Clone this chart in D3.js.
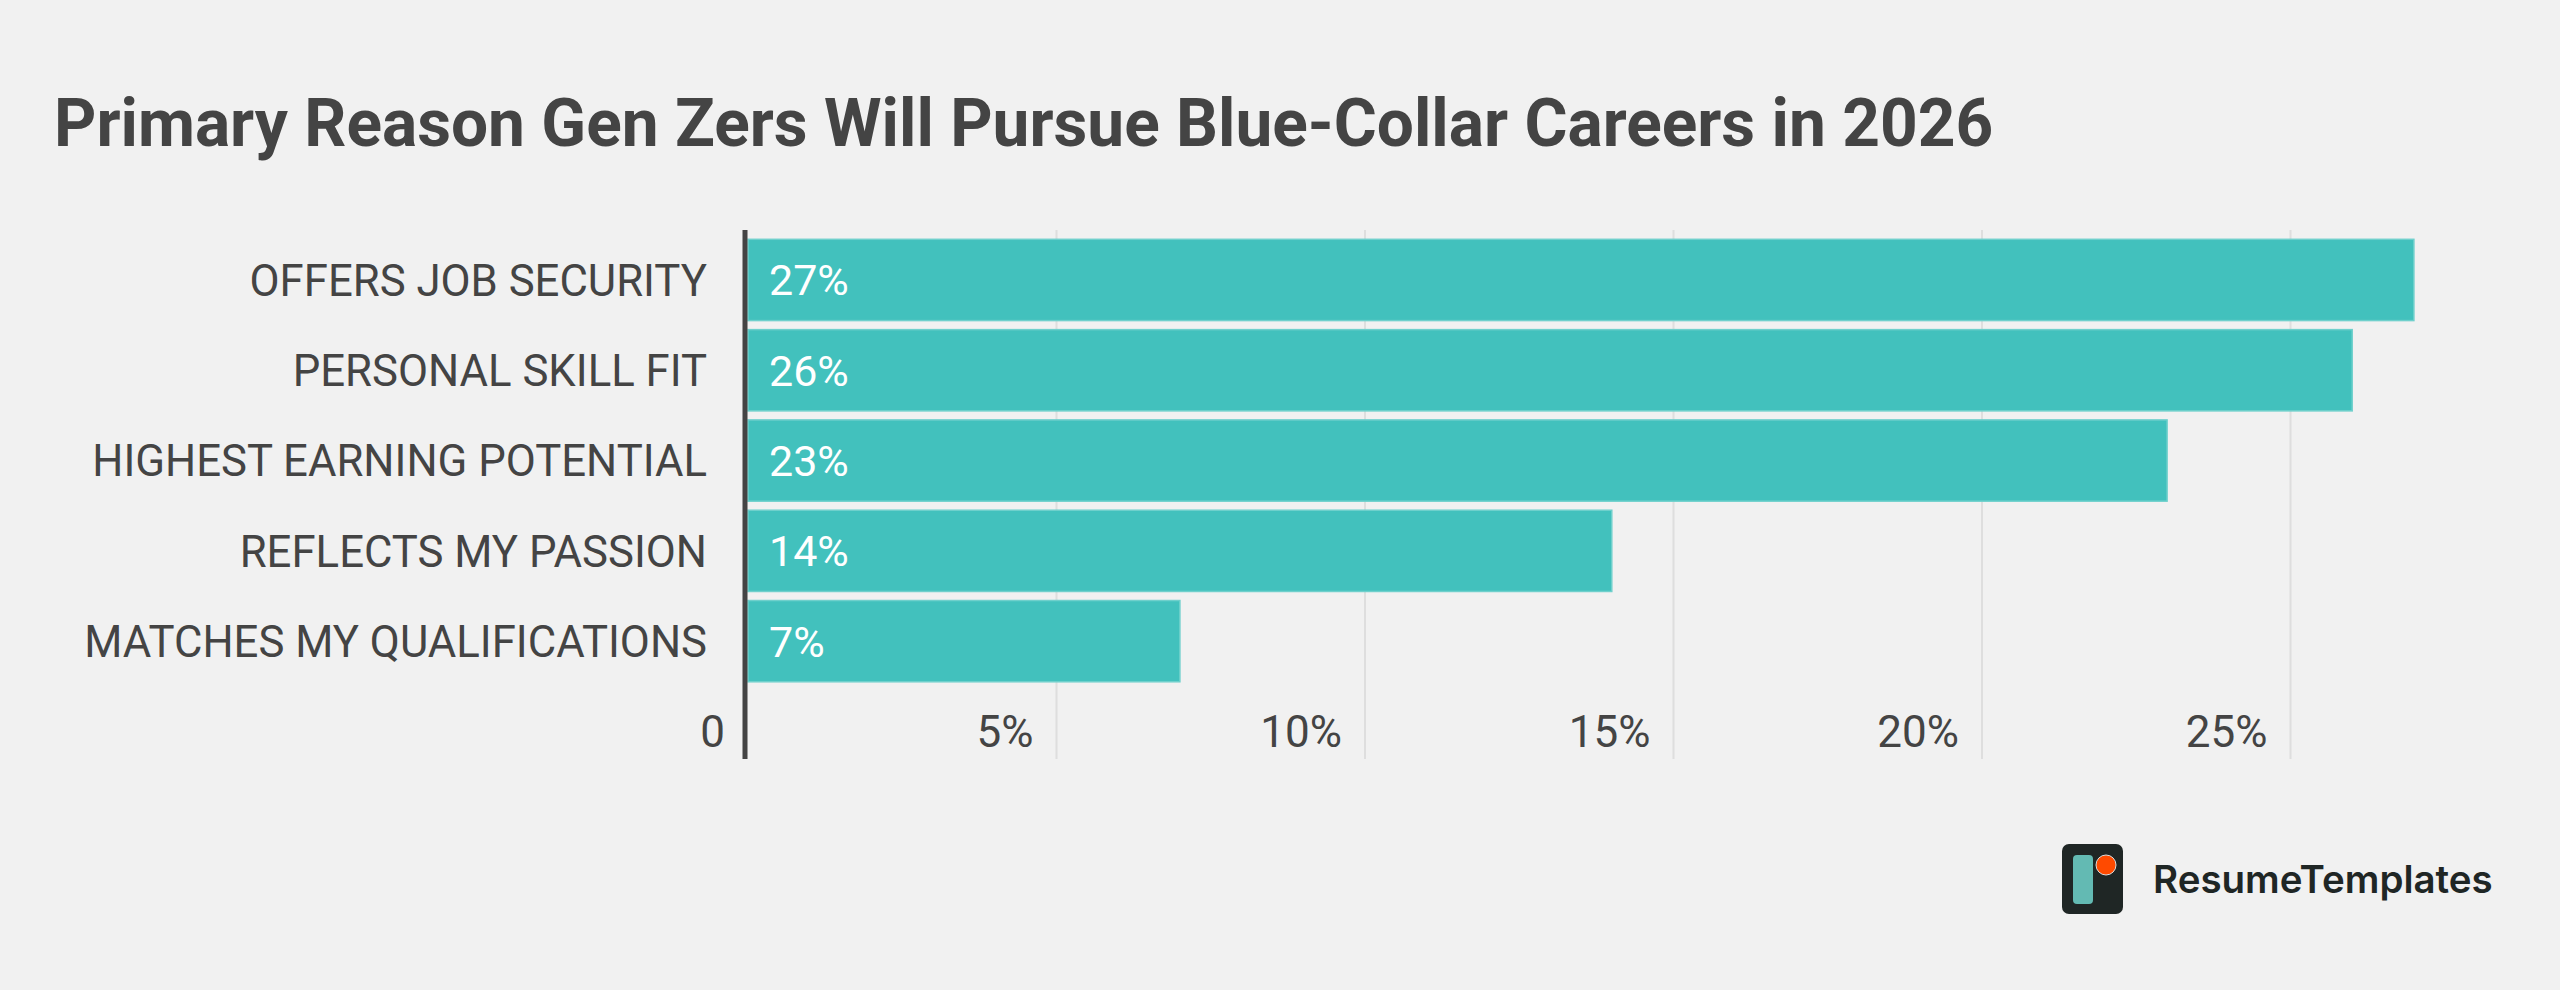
<!DOCTYPE html>
<html>
<head>
<meta charset="utf-8">
<script src="https://cdn.jsdelivr.net/npm/d3@7"></script>
<style>
  body { margin: 0; background: #f1f1f1; }
  svg { display: block; font-family: Roboto, "Noto Sans", sans-serif; }
</style>
</head>
<body>
<svg id="chart" width="2560" height="990"></svg>
<script>
// data
const categories = [
  'OFFERS JOB SECURITY',
  'PERSONAL SKILL FIT',
  'HIGHEST EARNING POTENTIAL',
  'REFLECTS MY PASSION',
  'MATCHES MY QUALIFICATIONS',
];
const shares = [27, 26, 23, 14, 7];
const xTicks = [0, 5, 10, 15, 20, 25];
const xTickLabels = ['0', '5%', '10%', '15%', '20%', '25%'];

const svg = d3.select('#chart');

svg.append('rect')
  .attr('width', 2560).attr('height', 990)
  .attr('fill', '#f1f1f1');

// title
svg.append('text')
  .attr('x', 54).attr('y', 146)
  .attr('font-size', 65.8)
  .attr('font-weight', 700)
  .attr('fill', '#444')
  .text('Primary Reason Gen Zers Will Pursue Blue-Collar Careers in 2026');

const x = d3.scaleLinear().domain([0, 25]).range([748, 2290.5]);
const y = d3.scaleBand()
  .domain(categories)
  .range([234.8, 686.3])
  .paddingInner(0.1)
  .paddingOuter(0.05);

const plotTop = 230, plotBottom = 759;

// grid
svg.selectAll('.grid')
  .data(xTicks.filter(d => d > 0))
  .enter().append('line')
  .attr('x1', d => x(d)).attr('x2', d => x(d))
  .attr('y1', plotTop).attr('y2', plotBottom)
  .attr('stroke', '#dedede')
  .attr('stroke-width', 2);

// bars
svg.selectAll('.bar')
  .data(shares)
  .enter().append('rect')
  .attr('x', x(0))
  .attr('y', (d, i) => y(categories[i]))
  .attr('width', d => x(d) - x(0))
  .attr('height', y.bandwidth())
  .attr('fill', '#42c1bd')
  .attr('stroke', '#6fd0cc')
  .attr('stroke-width', 1.5);

// value labels
svg.selectAll('.val')
  .data(shares)
  .enter().append('text')
  .attr('x', x(0) + 21)
  .attr('y', (d, i) => y(categories[i]) + y.bandwidth() / 2)
  .attr('dy', '0.36em')
  .attr('font-size', 43)
  .attr('fill', '#fff')
  .text(d => d + '%');

// category labels
svg.selectAll('.cat')
  .data(categories)
  .enter().append('text')
  .attr('x', 707)
  .attr('y', d => y(d) + y.bandwidth() / 2)
  .attr('dy', '0.36em')
  .attr('text-anchor', 'end')
  .attr('font-size', 43.7)
  .attr('fill', '#444')
  .text(d => d);

// tick labels
svg.selectAll('.tick')
  .data(xTicks)
  .enter().append('text')
  .attr('x', d => x(d) - 23)
  .attr('y', 747)
  .attr('text-anchor', 'end')
  .attr('font-size', 44)
  .attr('fill', '#444')
  .text((d, i) => xTickLabels[i]);

// axis line
svg.append('line')
  .attr('x1', 745).attr('x2', 745)
  .attr('y1', plotTop).attr('y2', plotBottom)
  .attr('stroke', '#444')
  .attr('stroke-width', 5);

// logo
const logo = svg.append('g');
logo.append('rect')
  .attr('x', 2062).attr('y', 844)
  .attr('width', 61).attr('height', 70).attr('rx', 7)
  .attr('fill', '#1f2625');
logo.append('rect')
  .attr('x', 2073).attr('y', 855)
  .attr('width', 20).attr('height', 49).attr('rx', 4)
  .attr('fill', '#63bab3');
logo.append('circle')
  .attr('cx', 2106).attr('cy', 865).attr('r', 10)
  .attr('fill', '#ff4a00')
  .attr('stroke', '#ddd').attr('stroke-width', 1);
logo.append('text')
  .attr('x', 2153).attr('y', 893)
  .attr('font-family', 'Inter, Roboto, sans-serif')
  .attr('font-size', 38.5)
  .attr('font-weight', 600)
  .attr('fill', '#1f2625')
  .text('ResumeTemplates');
</script>
</body>
</html>
